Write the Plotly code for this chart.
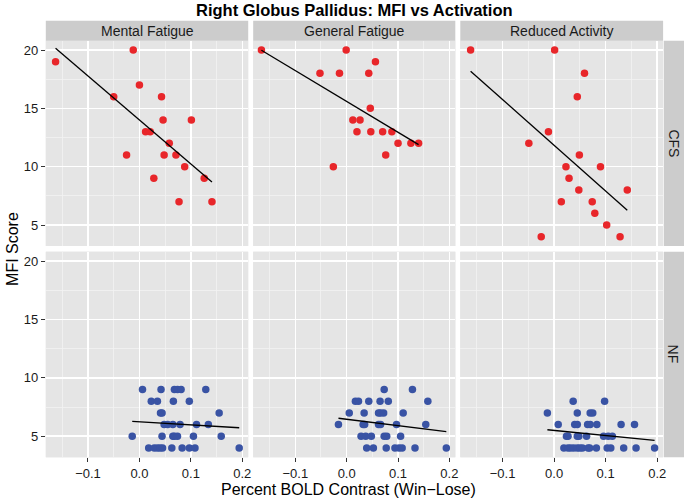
import numpy as np
import plotly.graph_objects as go

# ---------------- data ----------------
measures = ["Mental Fatigue", "General Fatigue", "Reduced Activity"]
groups = ["CFS", "NF"]

cfs_mental_x = [-0.163, -0.012, 0.000, -0.050, 0.043, 0.046, 0.101, 0.012, 0.021,
                0.058, -0.025, 0.048, 0.071, 0.088, 0.028, 0.126, 0.077, 0.141]
cfs_mental_y = [19, 20, 17, 16, 16, 14, 14, 13, 13, 12, 11, 11, 11, 10, 9, 9, 7, 7]

cfs_general_x = [-0.166, -0.001, 0.056, -0.052, -0.014, 0.043, 0.046, 0.012, 0.026,
                 0.020, 0.047, 0.070, 0.088, 0.100, 0.125, 0.140, 0.076, -0.026]
cfs_general_y = [20, 20, 19, 18, 18, 18, 15, 14, 14, 13, 13, 13, 13, 12, 12, 12, 11, 10]

cfs_reduced_x = [-0.162, 0.001, 0.059, 0.045, -0.011, -0.049, 0.049, 0.023, 0.090,
                 0.029, 0.048, 0.142, 0.014, 0.074, 0.079, 0.102, -0.025, 0.128]
cfs_reduced_y = [20, 20, 18, 16, 13, 12, 11, 10, 10, 9, 8, 8, 7, 7, 6, 5, 4, 4]

nf_mental_x = [0.006, 0.042, 0.068, 0.074, 0.081, 0.129,
               0.023, 0.035, 0.066, 0.097,
               0.041, 0.044, 0.155,
               0.048, 0.055, 0.065, 0.079, 0.111, 0.134,
               -0.014, 0.044, 0.065, 0.068, 0.074, 0.105, 0.159,
               0.018, 0.029, 0.035, 0.040, 0.045, 0.063, 0.083, 0.097, 0.108, 0.194]
nf_mental_y = [9, 9, 9, 9, 9, 9,
               8, 8, 8, 8,
               7, 7, 7,
               6, 6, 6, 6, 6, 6,
               5, 5, 5, 5, 5, 5, 5,
               4, 4, 4, 4, 4, 4, 4, 4, 4, 4]

nf_general_x = [0.073, 0.128,
                0.017, 0.023, 0.043, 0.065, 0.081, 0.158,
                0.005, 0.034, 0.062, 0.066, 0.072, 0.110,
                -0.016, 0.032, 0.035, 0.062, 0.066, 0.097, 0.154,
                0.028, 0.037, 0.048, 0.073, 0.078, 0.105,
                0.039, 0.052, 0.077, 0.094, 0.102, 0.108, 0.133, 0.194]
nf_general_y = [9, 9,
                8, 8, 8, 8, 8, 8,
                7, 7, 7, 7, 7, 7,
                6, 6, 6, 6, 6, 6, 6,
                5, 5, 5, 5, 5, 5,
                4, 4, 4, 4, 4, 4, 4, 4]

nf_reduced_x = [0.037, 0.098,
                -0.013, 0.045, 0.070, 0.075,
                0.008, 0.040, 0.045, 0.065, 0.070, 0.083, 0.130, 0.156,
                0.024, 0.027, 0.045, 0.048, 0.063, 0.096, 0.105, 0.113,
                0.019, 0.027, 0.032, 0.038, 0.045, 0.050, 0.055, 0.066, 0.069,
                0.082, 0.103, 0.110, 0.135, 0.159, 0.195]
nf_reduced_y = [8, 8,
                7, 7, 7, 7,
                6, 6, 6, 6, 6, 6, 6, 6,
                5, 5, 5, 5, 5, 5, 5, 5,
                4, 4, 4, 4, 4, 4, 4, 4, 4,
                4, 4, 4, 4, 4, 4]

x_tickvals = [-0.1, 0.0, 0.1, 0.2]
y_tickvals = [5, 10, 15, 20]

panels = {
    ("CFS", 0): (cfs_mental_x, cfs_mental_y),
    ("CFS", 1): (cfs_general_x, cfs_general_y),
    ("CFS", 2): (cfs_reduced_x, cfs_reduced_y),
    ("NF", 0): (nf_mental_x, nf_mental_y),
    ("NF", 1): (nf_general_x, nf_general_y),
    ("NF", 2): (nf_reduced_x, nf_reduced_y),
}
colors = {"CFS": "#E8262A", "NF": "#3953A4"}

# ---------------- layout geometry (pixels) ----------------
W, H = 690, 502
col_px = [(46, 249.3), (254.3, 457.3), (462.3, 666.0)]
row_px = [(40.7, 246.0), (251.7, 457.3)]
strip_top = 20.7
rstrip = (666.7, 687.0)

def px(v):
    return v / W

def py(v):
    return 1 - v / H

FONT = "Liberation Sans, Arial, sans-serif"
fig = go.Figure()
layout = dict(
    width=W, height=H, margin=dict(l=0, r=0, t=0, b=0),
    paper_bgcolor="white", plot_bgcolor="#E5E5E5", showlegend=False,
    font=dict(family=FONT, color="#1a1a1a"), hovermode=False,
)

shapes = []
annotations = []
idx = 0
for r, g in enumerate(groups):
    for c in range(3):
        idx += 1
        xa = "x" if idx == 1 else f"x{idx}"
        ya = "y" if idx == 1 else f"y{idx}"
        xs, ys = panels[(g, c)]
        fig.add_trace(go.Scatter(x=xs, y=ys, mode="markers", xaxis=xa, yaxis=ya,
                                 marker=dict(size=7.5, color=colors[g], line=dict(width=0)),
                                 hoverinfo="skip"))
        xarr = np.array(xs)
        yarr = np.array(ys)
        slope, icpt = np.polyfit(xarr, yarr, 1)
        lx = np.array([xarr.min(), xarr.max()])
        fig.add_trace(go.Scatter(x=lx, y=icpt + slope * lx, mode="lines", xaxis=xa, yaxis=ya,
                                 line=dict(color="black", width=1.3), hoverinfo="skip"))
        shapes.append(dict(type="rect", xref="paper", yref="paper", layer="below",
                           x0=px(col_px[c][0]), x1=px(col_px[c][1]),
                           y0=py(row_px[r][1]), y1=py(row_px[r][0]),
                           fillcolor="#E5E5E5", line=dict(width=0)))
        layout["xaxis" if idx == 1 else f"xaxis{idx}"] = dict(
            domain=[px(col_px[c][0]), px(col_px[c][1])], anchor=ya,
            range=[-0.182, 0.2115], tickvals=x_tickvals, tickformat=".1f",
            showgrid=True, gridcolor="white", gridwidth=1.6, zeroline=False,
            showline=False,
            minor=dict(tick0=-0.15, dtick=0.1, showgrid=True, gridcolor="#F2F2F2",
                       gridwidth=0.8, ticklen=0),
            ticks="outside" if r == 1 else "", ticklen=4, tickcolor="#333333",
            showticklabels=(r == 1), tickfont=dict(size=13, color="#1a1a1a", family=FONT),
        )
        layout["yaxis" if idx == 1 else f"yaxis{idx}"] = dict(
            domain=[py(row_px[r][1]), py(row_px[r][0])], anchor=xa,
            range=[3.2, 20.8], tickvals=y_tickvals,
            showgrid=True, gridcolor="white", gridwidth=1.6, zeroline=False,
            showline=False,
            minor=dict(tick0=7.5, dtick=5, showgrid=True, gridcolor="#F2F2F2",
                       gridwidth=0.8, ticklen=0),
            ticks="outside" if c == 0 else "", ticklen=4, tickcolor="#333333",
            showticklabels=(c == 0), tickfont=dict(size=13, color="#1a1a1a", family=FONT),
        )

# top strips
for c, m in enumerate(measures):
    shapes.append(dict(type="rect", xref="paper", yref="paper",
                       x0=px(col_px[c][0]), x1=px(col_px[c][1]),
                       y0=py(row_px[0][0]), y1=py(strip_top),
                       fillcolor="#CCCCCC", line=dict(width=0)))
    annotations.append(dict(text=m, xref="paper", yref="paper", showarrow=False,
                            x=px((col_px[c][0] + col_px[c][1]) / 2),
                            y=py((strip_top + row_px[0][0]) / 2),
                            xanchor="center", yanchor="middle",
                            font=dict(size=14, color="#1a1a1a", family=FONT)))
# right strips
for r, g in enumerate(groups):
    shapes.append(dict(type="rect", xref="paper", yref="paper",
                       x0=px(rstrip[0]), x1=px(rstrip[1]),
                       y0=py(row_px[r][1]), y1=py(row_px[r][0]),
                       fillcolor="#CCCCCC", line=dict(width=0)))
    annotations.append(dict(text=g, xref="paper", yref="paper", showarrow=False,
                            x=px((rstrip[0] + rstrip[1]) / 2),
                            y=py((row_px[r][0] + row_px[r][1]) / 2),
                            xanchor="center", yanchor="middle", textangle=90,
                            font=dict(size=14, color="#1a1a1a", family=FONT)))

# title and axis titles
annotations.append(dict(text="<b>Right Globus Pallidus: MFI vs Activation</b>",
                        xref="paper", yref="paper", showarrow=False,
                        x=px(356), y=py(10.5), xanchor="center", yanchor="middle",
                        font=dict(size=16.5, color="black", family=FONT)))
annotations.append(dict(text="Percent BOLD Contrast (Win\u2212Lose)",
                        xref="paper", yref="paper", showarrow=False,
                        x=px(350), y=py(489), xanchor="center", yanchor="middle",
                        font=dict(size=16, color="black", family=FONT)))
annotations.append(dict(text="MFI Score", xref="paper", yref="paper", showarrow=False,
                        x=px(12), y=py(249), xanchor="center", yanchor="middle",
                        textangle=-90, font=dict(size=16, color="black", family=FONT)))

layout["shapes"] = shapes
layout["annotations"] = annotations
fig.update_layout(**layout)
fig.write_html("out.html", config={"displayModeBar": False, "staticPlot": True},
               post_script="document.body.style.margin='0';document.body.style.padding='0';")
